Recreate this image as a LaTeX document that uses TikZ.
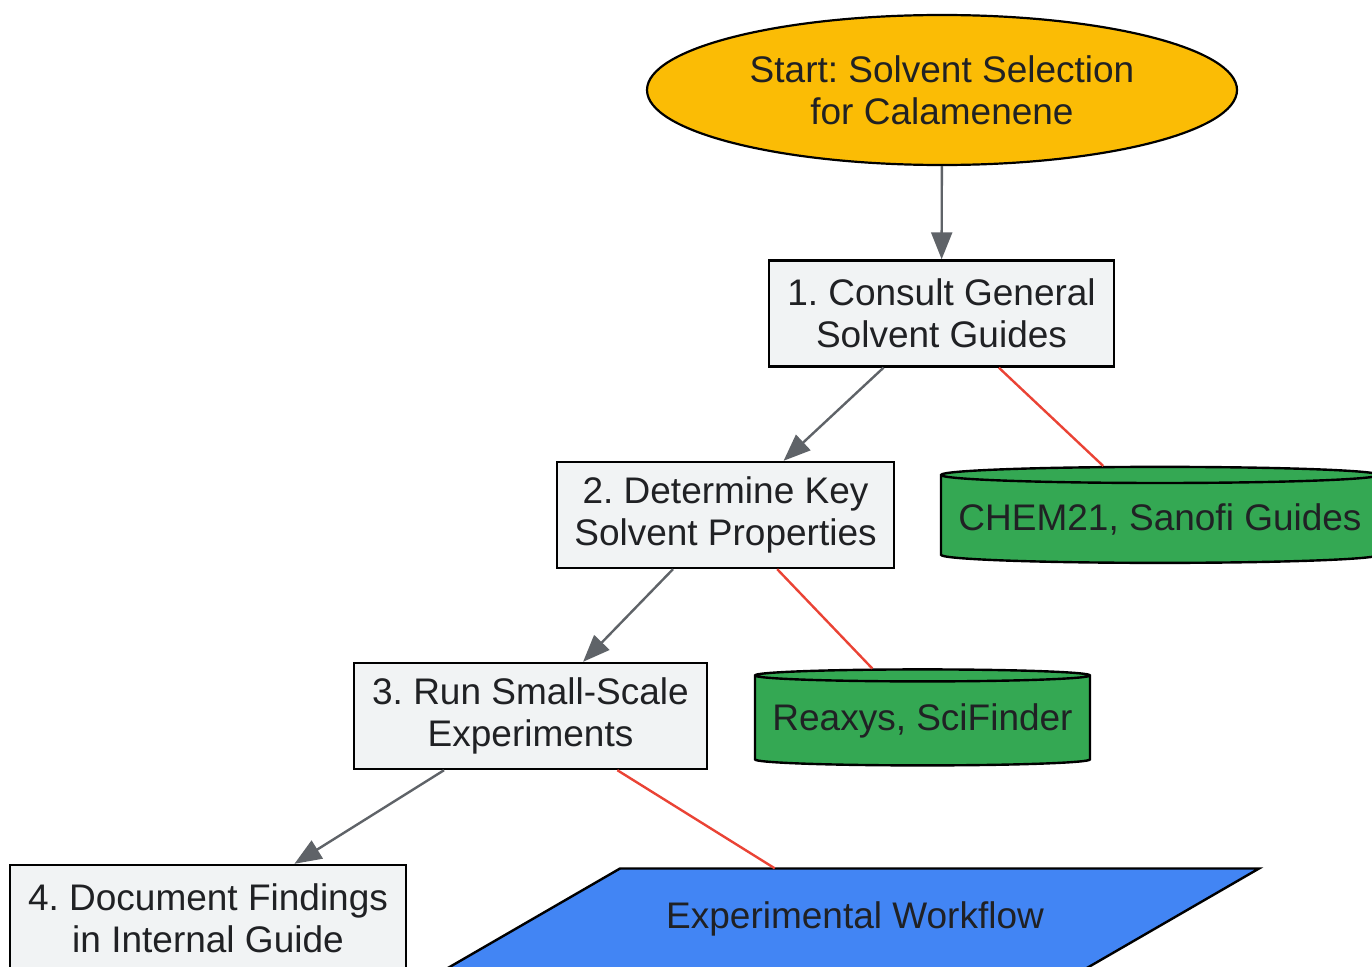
\documentclass[tikz,border=0pt]{standalone}
\usepackage{fontspec}
\setmainfont{Liberation Sans}
\usetikzlibrary{shapes.geometric,arrows.meta}
\definecolor{startgold}{HTML}{FBBC05}
\definecolor{boxgray}{HTML}{F1F3F4}
\definecolor{dbgreen}{HTML}{34A853}
\definecolor{wfblue}{HTML}{4285F4}
\definecolor{edgegray}{HTML}{5F6368}
\definecolor{edgered}{HTML}{EA4335}
\definecolor{textc}{HTML}{202124}
\frenchspacing
\begin{document}
\begin{tikzpicture}[x=1pt,y=-1pt,
  txt/.style={font=\fontsize{37}{42}\selectfont, text=textc, align=center, inner sep=0pt},
  startnode/.style={txt, ellipse, draw=black, line width=2.2pt, fill=startgold, minimum width=590pt, minimum height=150pt},
  procbox/.style={txt, rectangle, draw=black, line width=2.4pt, fill=boxgray, minimum height=106pt},
  dbnode/.style={txt, cylinder, shape border rotate=90, aspect=0.04, draw=black, line width=2.4pt, fill=dbgreen, minimum height=96pt},
  wfnode/.style={txt, rectangle, minimum width=400pt, minimum height=100pt},
  flow/.style={draw=edgegray, line width=2.4pt, -{Triangle[length=27pt,width=21pt]}},
  link/.style={draw=edgered, line width=2.4pt}]
\useasboundingbox (0,0) rectangle (1372,966);
\clip (0,0) rectangle (1372,966);

\node[startnode] (start) at (942,90) {Start: Solvent Selection\\for Calamenene};
\node[procbox, minimum width=345pt] (s1) at (941.5,313.5) {1. Consult General\\Solvent Guides};
\node[procbox, minimum width=337pt] (s2) at (725.5,515) {2. Determine Key\\Solvent Properties};
\node[procbox, minimum width=353pt] (s3) at (530.5,716) {3. Run Small-Scale\\Experiments};
\node[procbox, minimum width=396pt] (s4) at (208,918) {4. Document Findings\\in Internal Guide};
\node[dbnode, minimum width=438pt] (db1) at (1160,519.5) {CHEM21, Sanofi Guides};
\node[dbnode, minimum width=335pt] (db2) at (922.5,721) {Reaxys, SciFinder};

\filldraw[fill=wfblue, draw=black, line width=2.4pt, line join=miter]
  (620,868.5) -- (1259,868.5) -- (1086,968.5) -- (447,968.5) -- cycle;
\node[wfnode] (wf) at (855,918.5) {Experimental Workflow};

\draw[flow] (start) -- (s1);
\draw[flow] (s1) -- (s2);
\draw[flow] (s2) -- (s3);
\draw[flow] (s3) -- (s4);
\draw[link] (s1) -- (db1);
\draw[link] (s2) -- (db2);
\draw[link] (s3) -- (wf);
\end{tikzpicture}
\end{document}
